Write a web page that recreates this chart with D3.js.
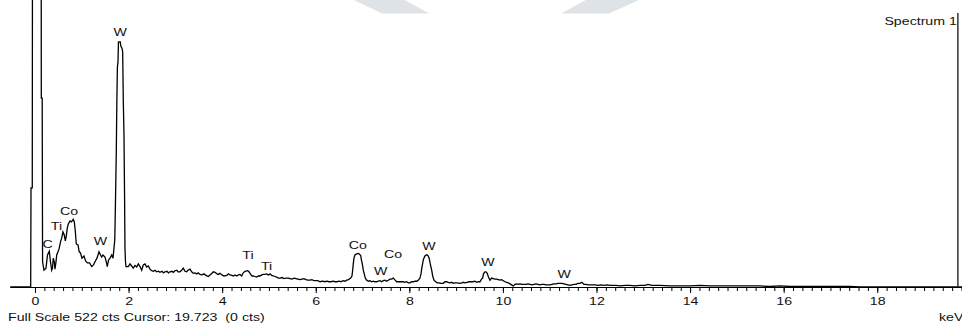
<!DOCTYPE html>
<html>
<head>
<meta charset="utf-8">
<script src="https://cdn.jsdelivr.net/npm/d3@7/dist/d3.min.js"></script>
<style>
    body { margin: 0; background: #fff; }
    svg { display: block; }
    text { font-family: 'Liberation Sans', Arial, sans-serif; fill: #111; }
</style>
</head>
<body>
<svg id="chart" width="962" height="323"></svg>
<script>
// spectrum: [keV, counts]
const spectrumLow = [
    [-0.53, 0], [-0.092, 0], [-0.085, 189], [-0.058, 189], [-0.049, 1200], [0.128, 1200], [0.135, 360], [0.154, 360], [0.162, 48], [0.192, 32],
    [0.235, 36], [0.267, 61], [0.306, 68], [0.331, 48], [0.357, 32], [0.374, 36], [0.391, 55], [0.412, 48], [0.427, 34], [0.449, 48],
    [0.464, 61], [0.492, 67], [0.519, 74], [0.545, 86], [0.571, 93], [0.598, 105], [0.626, 99], [0.648, 88], [0.669, 97], [0.690, 112],
    [0.712, 120], [0.748, 126], [0.780, 124], [0.818, 129], [0.840, 124], [0.859, 109], [0.883, 82], [0.919, 80], [0.945, 67], [0.972, 65],
    [1.004, 55], [1.047, 59], [1.079, 50], [1.118, 46], [1.165, 46], [1.212, 39], [1.250, 42], [1.282, 48], [1.325, 55], [1.368, 67],
    [1.400, 61], [1.425, 57], [1.453, 61], [1.496, 57], [1.524, 48], [1.545, 39], [1.571, 51], [1.603, 55], [1.639, 61], [1.667, 55],
    [1.688, 74], [1.705, 90], [1.716, 141], [1.737, 255], [1.750, 356], [1.761, 419], [1.774, 429], [1.784, 467], [1.823, 467], [1.834, 459],
    [1.859, 455], [1.874, 448], [1.887, 356], [1.902, 290], [1.915, 166], [1.923, 74], [1.934, 48], [1.945, 39], [1.994, 39],
]

const spectrumMid = [
    [2.030, 44], [2.066, 40], [2.101, 36], [2.137, 41], [2.173, 38], [2.208, 44], [2.244, 39], [2.280, 32], [2.314, 42], [2.351, 44],
    [2.387, 38], [2.421, 40], [2.458, 34], [2.494, 31], [2.528, 30], [2.564, 32], [2.601, 29], [2.635, 30], [2.671, 28], [2.714, 30],
    [2.746, 27], [2.778, 29], [2.821, 30], [2.853, 27], [2.885, 29], [2.928, 30], [2.955, 28], [2.992, 31], [3.028, 32], [3.056, 29],
    [3.099, 29], [3.135, 32], [3.169, 36], [3.206, 30], [3.242, 29], [3.270, 32], [3.312, 34], [3.349, 29], [3.383, 26], [3.419, 27],
    [3.462, 25], [3.490, 27], [3.526, 24], [3.569, 23], [3.612, 25], [3.654, 22], [3.703, 20], [3.740, 23], [3.782, 26], [3.810, 29],
    [3.847, 28], [3.889, 25], [3.917, 24], [3.953, 26], [3.996, 23], [4.039, 21], [4.097, 22], [4.131, 25], [4.167, 23], [4.210, 22],
    [4.238, 21], [4.274, 23], [4.310, 21], [4.345, 23], [4.381, 24], [4.417, 21], [4.451, 27], [4.488, 30], [4.545, 31], [4.573, 29],
    [4.610, 24], [4.637, 21], [4.665, 21], [4.701, 20], [4.738, 19], [4.772, 21], [4.808, 21], [4.845, 23], [4.879, 24], [4.915, 24],
    [4.951, 25], [4.986, 23], [5.022, 25], [5.058, 22], [5.092, 21], [5.129, 20], [5.165, 19], [5.199, 17], [5.236, 17], [5.278, 18],
    [5.321, 16], [5.364, 17], [5.407, 17], [5.449, 16], [5.492, 15], [5.535, 17], [5.577, 16], [5.620, 15], [5.663, 14], [5.706, 15],
    [5.749, 16], [5.791, 14], [5.834, 13], [5.877, 13], [5.920, 14], [5.962, 12], [6.020, 12], [6.048, 12], [6.091, 10], [6.148, 11],
    [6.197, 10], [6.240, 11], [6.283, 10], [6.326, 10], [6.368, 11], [6.411, 10], [6.454, 10], [6.496, 11], [6.539, 10], [6.582, 12],
    [6.625, 11],
]

const spectrumK = [
    [6.661, 13], [6.700, 14], [6.747, 17], [6.774, 21], [6.789, 32], [6.802, 44], [6.817, 55], [6.838, 61], [6.875, 63], [6.909, 64],
    [6.930, 63], [6.960, 60], [6.977, 51], [6.995, 44], [7.016, 32], [7.037, 25], [7.059, 17], [7.089, 13], [7.127, 11], [7.159, 12],
    [7.195, 10], [7.230, 11], [7.266, 10], [7.302, 10], [7.336, 11], [7.373, 12], [7.409, 10], [7.443, 12], [7.480, 13], [7.516, 11],
    [7.550, 13], [7.586, 15], [7.623, 15], [7.657, 17], [7.687, 14], [7.730, 10], [7.764, 10], [7.800, 10], [7.836, 10], [7.871, 10],
    [7.907, 9], [7.943, 10], [7.978, 8], [8.014, 8], [8.050, 10], [8.084, 10], [8.121, 11], [8.157, 11], [8.191, 13], [8.227, 17],
    [8.249, 25], [8.266, 36], [8.285, 45], [8.302, 53], [8.334, 59], [8.362, 61], [8.383, 61], [8.405, 59], [8.426, 54], [8.447, 44],
    [8.478, 32], [8.499, 21], [8.527, 13], [8.563, 10], [8.597, 8], [8.633, 8], [8.676, 7], [8.725, 7], [8.762, 10], [8.798, 10],
    [8.832, 9], [8.869, 8], [8.905, 9], [8.939, 7], [8.975, 8], [9.018, 8], [9.082, 7], [9.125, 8], [9.153, 9], [9.189, 8],
    [9.232, 9], [9.275, 10], [9.317, 10], [9.360, 10], [9.403, 11], [9.439, 9], [9.473, 10], [9.510, 10], [9.542, 15], [9.567, 17],
    [9.584, 25], [9.616, 29], [9.638, 29], [9.665, 26], [9.691, 19], [9.723, 13], [9.759, 17], [9.794, 16], [9.830, 15], [9.867, 15],
    [9.901, 14], [9.937, 13], [9.973, 14], [10.008, 12], [10.044, 10], [10.080, 9], [10.115, 8], [10.151, 6], [10.187, 4], [10.221, 2],
]

const spectrumTail = [
    [10.258, 5], [10.294, 6], [10.328, 5], [10.364, 6], [10.407, 5], [10.450, 5], [10.493, 5], [10.535, 6], [10.578, 5], [10.621, 4],
    [10.664, 5], [10.706, 6], [10.749, 5], [10.792, 4], [10.835, 5], [10.877, 5], [10.920, 4], [10.963, 4], [11.006, 4], [11.048, 5],
    [11.091, 6], [11.134, 6], [11.177, 7], [11.219, 7], [11.262, 7], [11.305, 6], [11.347, 5], [11.390, 4], [11.433, 3], [11.476, 4],
    [11.518, 5], [11.561, 5], [11.604, 7], [11.647, 7], [11.689, 9], [11.732, 5], [11.775, 5], [11.818, 4], [11.860, 4], [11.903, 4],
    [11.967, 4], [12.031, 3], [12.095, 4], [12.160, 3], [12.224, 4], [12.288, 3], [12.352, 3], [12.416, 3], [12.501, 2], [12.608, 3],
    [12.715, 3], [12.822, 2], [12.929, 3], [13.036, 3], [13.100, 5], [13.185, 3], [13.356, 3], [13.570, 2], [13.784, 2], [13.998, 2],
    [14.211, 3], [14.425, 2], [14.639, 2], [14.853, 2], [15.066, 2], [15.280, 2], [15.494, 2], [15.707, 1], [15.921, 2], [16.135, 1],
    [16.348, 1], [16.562, 1], [16.775, 1], [16.989, 1], [17.203, 1], [17.417, 1], [17.630, 0], [17.844, 0], [18.058, 0], [18.485, 0],
    [18.912, 0], [19.340, 0], [19.811, 0],
]

// element markers
const peakNames = ['C', 'Ti', 'Co', 'W', 'W', 'Ti', 'Ti', 'Co', 'W', 'Co', 'W', 'W', 'W']
const peakKeV = [0.27, 0.46, 0.73, 1.40, 1.82, 4.55, 4.95, 6.90, 7.39, 7.65, 8.42, 9.68, 11.31]
const peakLabelCts = [74, 109, 137, 80, 478, 53, 32, 72, 23, 55, 70, 40, 17]

const majorTicks = [0, 2, 4, 6, 8, 10, 12, 14, 16, 18]
const minorStep = 0.2
const viewKeV = [-0.534, 19.811]
const fullScale = 522
const cursorKeV = 19.723
const cursorCts = 0
const spectrumName = 'Spectrum 1'

const W = 962
const H = 323
const left = 10
const baseY = 287
const topY = 13
const stretch = 1.35
const fontSize = 10.5

const svg = d3.select('#chart')
const spectrum = [...spectrumLow, ...spectrumMid, ...spectrumK, ...spectrumTail]

const x = d3.scaleLinear().domain(viewKeV).range([left, W])
const y = d3.scaleLinear().domain([0, fullScale]).range([baseY, topY])

// faint banner shapes at the top
const banner = svg.append('g').attr('fill', '#dde3e6')
banner.append('polygon').attr('points', '354,0 405,0 429,13.5 382,13.5')
banner.append('polygon').attr('points', '586,0 639,0 609,13.5 561,13.5')

function label(txt, px, py, anchor) {
    return svg.append('text')
        .attr('transform', `translate(${px},${py}) scale(${stretch},1)`)
        .attr('text-anchor', anchor || 'middle')
        .style('font-size', fontSize + 'px')
        .text(txt)
}

// axis: minor ticks then labelled major ticks
const minorAxis = d3.axisBottom(x)
    .tickValues(d3.range(0, viewKeV[1], minorStep))
    .tickSize(4)
    .tickSizeOuter(0)
    .tickFormat('')
svg.append('g')
    .attr('transform', `translate(0,${baseY})`)
    .call(minorAxis)
    .call(g => g.select('.domain').remove())
    .selectAll('line').attr('stroke', '#000')

const majorAxis = d3.axisBottom(x)
    .tickValues(majorTicks)
    .tickSize(6)
    .tickSizeOuter(0)
    .tickFormat(d3.format('d'))
const axisG = svg.append('g')
    .attr('transform', `translate(0,${baseY})`)
    .call(majorAxis)
axisG.select('.domain').attr('stroke', '#000').attr('stroke-width', 1.2)
axisG.selectAll('.tick line').attr('stroke', '#000')
axisG.selectAll('.tick text')
    .attr('y', 10.5)
    .attr('transform', `scale(${stretch},1)`)
    .style('font-size', fontSize + 'px')
    .style('fill', '#111')
    .attr('font-family', null)

// spectrum trace
const line = d3.line()
    .x(d => x(d[0]))
    .y(d => y(d[1]))
svg.append('path')
    .datum(spectrum)
    .attr('fill', 'none')
    .attr('stroke', '#000')
    .attr('stroke-width', 1.3)
    .attr('stroke-linejoin', 'miter')
    .attr('d', line)

// cursor
svg.append('line')
    .attr('x1', x(cursorKeV)).attr('x2', x(cursorKeV))
    .attr('y1', y(fullScale)).attr('y2', y(0))
    .attr('stroke', '#333')
    .attr('stroke-width', 1.5)

peakNames.forEach((name, i) => {
    label(name, x(peakKeV[i]), y(peakLabelCts[i]))
})

label(spectrumName, x(cursorKeV) - 1, 25, 'end')
label(`Full Scale ${fullScale} cts Cursor: ${cursorKeV.toFixed(3)}  (${cursorCts} cts)`, 8, 321, 'start')
    .style('white-space', 'pre')
label('keV', 939, 321, 'start')
</script>
</body>
</html>
